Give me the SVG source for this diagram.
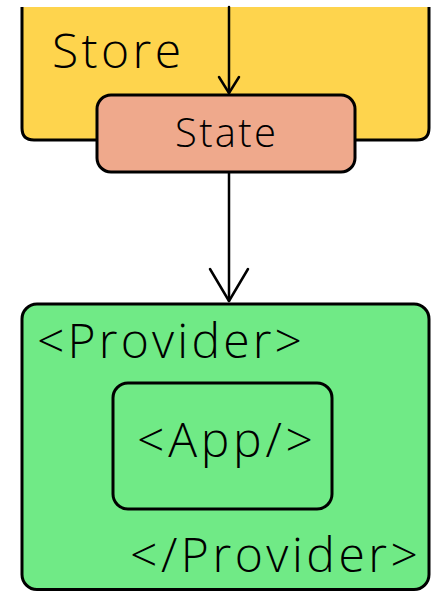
<svg xmlns="http://www.w3.org/2000/svg" width="431" height="591" viewBox="0 0 431 591">
  <style>
    .box { stroke: #000; stroke-width: 3; }
    .lbl { font-family: "Open Sans", "Lato", "DejaVu Sans", sans-serif; font-weight: 300; fill: #000; }
    .wire { stroke: #000; stroke-width: 2.5; fill: none; stroke-linecap: round; stroke-linejoin: round; }
  </style>
  <rect width="431" height="591" fill="#fff"/>

  <g id="store">
    <path d="M22,7 V128 Q22,140 34,140 H417 Q429,140 429,128 V7 Z" fill="#FED44D"/>
    <path class="box" d="M22,7 V128 Q22,140 34,140 H417 Q429,140 429,128 V7" fill="none"/>
    <text class="lbl" x="52" y="68" font-size="48" textLength="129" lengthAdjust="spacing">Store</text>
  </g>

  <g id="connectors">
    <path class="wire" d="M229,7 V93"/>
    <path class="wire" d="M219,77 L229,93 L239,77"/>
    <path class="wire" d="M229,172 V301"/>
    <path class="wire" d="M210,269 L229,301 L248,269"/>
  </g>

  <g id="state">
    <rect class="box" x="97" y="95" width="258" height="77" rx="14" fill="#EFA98C"/>
    <text class="lbl" x="175" y="147" font-size="40" textLength="101" lengthAdjust="spacing">State</text>
  </g>

  <g id="provider">
    <rect class="box" x="22" y="304" width="407" height="285.5" rx="15" fill="#70EA86"/>
    <text class="lbl" x="37" y="358" font-size="48" textLength="265" lengthAdjust="spacing">&lt;Provider&gt;</text>
    <text class="lbl" x="130" y="572" font-size="48" textLength="288" lengthAdjust="spacing">&lt;/Provider&gt;</text>
  </g>

  <g id="app">
    <rect class="box" x="113" y="383" width="219" height="126" rx="15" fill="#70EA86"/>
    <text class="lbl" x="137" y="457" font-size="48" textLength="176" lengthAdjust="spacing">&lt;App/&gt;</text>
  </g>
</svg>
